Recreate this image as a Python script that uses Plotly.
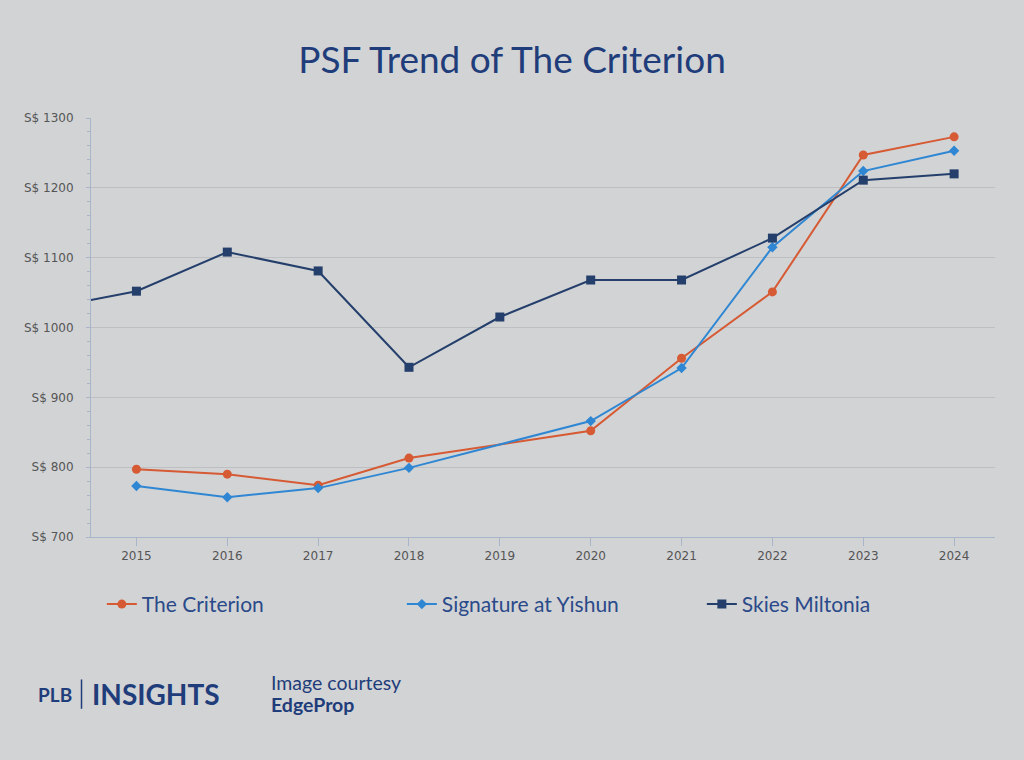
import plotly.graph_objects as go

years = [2014, 2015, 2016, 2017, 2018, 2019, 2020, 2021, 2022, 2023, 2024]
criterion = [None, 797, 790, 774, 813, None, 852, 956, 1051, 1247, 1273]
signature = [None, 773, 757, 770, 799, None, 866, 942, 1115, 1224, 1253]
skies = [1027, 1052, 1108, 1081, 943, 1015, 1068, 1068, 1128, 1211, 1220]
tick_years = [2015, 2016, 2017, 2018, 2019, 2020, 2021, 2022, 2023, 2024]

BG = "#d2d3d5"
NAVY = "#1f3d7a"

fig = go.Figure()
fig.add_trace(go.Scatter(x=years, y=criterion, name="The Criterion", mode="lines+markers",
                         connectgaps=True, line=dict(color="#d65a33", width=2),
                         marker=dict(symbol="circle", size=9, color="#d65a33")))
fig.add_trace(go.Scatter(x=years, y=signature, name="Signature at Yishun", mode="lines+markers",
                         connectgaps=True, line=dict(color="#2f87d3", width=2),
                         marker=dict(symbol="diamond", size=8, color="#2f87d3")))
fig.add_trace(go.Scatter(x=years, y=skies, name="Skies Miltonia", mode="lines+markers",
                         connectgaps=True, line=dict(color="#243f6b", width=2),
                         marker=dict(symbol="square", size=9, color="#243f6b")))

fig.update_layout(
    width=1024, height=760,
    paper_bgcolor=BG, plot_bgcolor=BG,
    margin=dict(l=91, r=29, t=118, b=223),
    title=dict(text="PSF Trend of The Criterion", x=0.5, xanchor="center", y=0.921, yanchor="middle",
               font=dict(family="Lato", size=37, color=NAVY)),
    legend=dict(orientation="h", x=0.012, xanchor="left", y=-0.161, yanchor="middle",
                entrywidth=255, entrywidthmode="pixels",
                font=dict(family="Lato", size=21, color="#2a4a8a"), bgcolor="rgba(0,0,0,0)"),
    showlegend=True,
)
fig.update_xaxes(range=[2014.5, 2024.45], tickvals=tick_years, ticks="outside", ticklen=8,
                 tickcolor="#a9b5c9", showline=True, linecolor="#a9b5c9", linewidth=1,
                 showgrid=False, zeroline=False,
                 tickfont=dict(family="DejaVu Sans", size=12, color="#555555"))
fig.update_yaxes(range=[700, 1300], dtick=100, tickprefix="S$ ", ticks="outside", ticklen=4,
                 tickcolor="#a9b5c9", showline=True, linecolor="#a9b5c9", linewidth=1,
                 showgrid=True, gridcolor="#bdbfc3", gridwidth=1, zeroline=False,
                 minor=dict(dtick=20, ticks="outside", ticklen=3, tickcolor="#a9b5c9", showgrid=False),
                 ticklabelstandoff=10,
                 tickfont=dict(family="DejaVu Sans", size=12, color="#555555"))

# footer branding
fig.add_annotation(xref="paper", yref="paper", x=-0.061, y=-0.375, xanchor="left", yanchor="middle",
                   text="<b>PLB</b>", showarrow=False, font=dict(family="Lato", size=19, color=NAVY))
fig.add_shape(type="line", xref="paper", yref="paper", x0=-0.0105, x1=-0.0105, y0=-0.34, y1=-0.41,
              line=dict(color=NAVY, width=1.5))
fig.add_annotation(xref="paper", yref="paper", x=-0.001, y=-0.375, xanchor="left", yanchor="middle",
                   text="<b>INSIGHTS</b>", showarrow=False, font=dict(family="Lato", size=28, color=NAVY))
fig.add_annotation(xref="paper", yref="paper", x=0.197, y=-0.348, xanchor="left", yanchor="middle",
                   text="Image courtesy", showarrow=False, font=dict(family="Lato", size=19.5, color=NAVY))
fig.add_annotation(xref="paper", yref="paper", x=0.197, y=-0.4, xanchor="left", yanchor="middle",
                   text="<b>EdgeProp</b>", showarrow=False, font=dict(family="Lato", size=19.5, color=NAVY))

fig.write_html("out.html", config={"displayModeBar": False},
               post_script="document.body.style.margin='0';document.body.style.overflow='hidden';")
